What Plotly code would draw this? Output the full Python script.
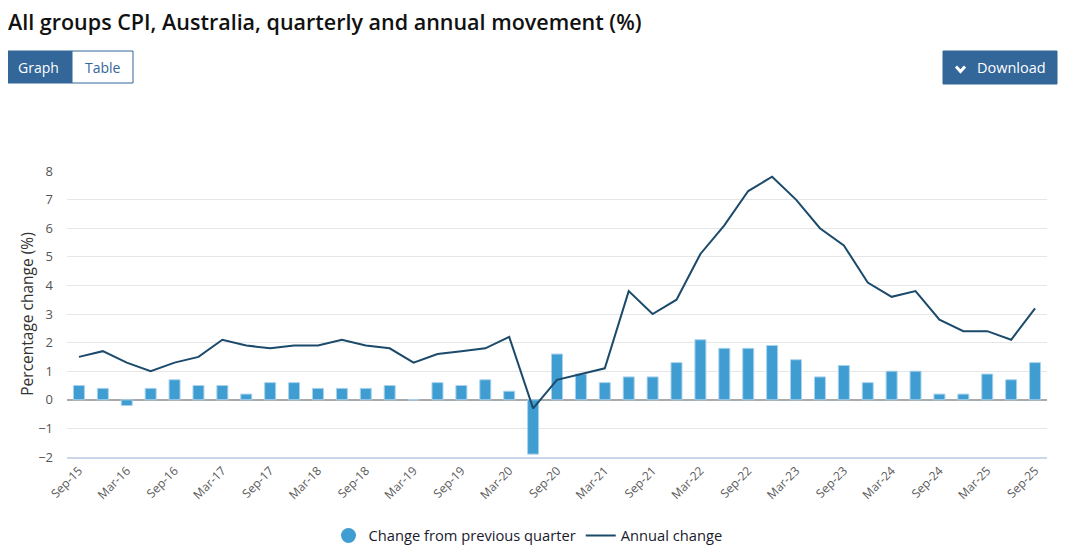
import plotly.graph_objects as go

quarters = ["Sep-15", "Dec-15", "Mar-16", "Jun-16", "Sep-16", "Dec-16", "Mar-17", "Jun-17",
            "Sep-17", "Dec-17", "Mar-18", "Jun-18", "Sep-18", "Dec-18", "Mar-19", "Jun-19",
            "Sep-19", "Dec-19", "Mar-20", "Jun-20", "Sep-20", "Dec-20", "Mar-21", "Jun-21",
            "Sep-21", "Dec-21", "Mar-22", "Jun-22", "Sep-22", "Dec-22", "Mar-23", "Jun-23",
            "Sep-23", "Dec-23", "Mar-24", "Jun-24", "Sep-24", "Dec-24", "Mar-25", "Jun-25",
            "Sep-25"]
quarterly_change = [0.5, 0.4, -0.2, 0.4, 0.7, 0.5, 0.5, 0.2, 0.6, 0.6, 0.4, 0.4, 0.4, 0.5,
                    0.0, 0.6, 0.5, 0.7, 0.3, -1.9, 1.6, 0.9, 0.6, 0.8, 0.8, 1.3, 2.1, 1.8,
                    1.8, 1.9, 1.4, 0.8, 1.2, 0.6, 1.0, 1.0, 0.2, 0.2, 0.9, 0.7, 1.3]
annual_change = [1.5, 1.7, 1.3, 1.0, 1.3, 1.5, 2.1, 1.9, 1.8, 1.9, 1.9, 2.1, 1.9, 1.8,
                 1.3, 1.6, 1.7, 1.8, 2.2, -0.3, 0.7, 0.9, 1.1, 3.8, 3.0, 3.5, 5.1, 6.1,
                 7.3, 7.8, 7.0, 6.0, 5.4, 4.1, 3.6, 3.8, 2.8, 2.4, 2.4, 2.1, 3.2]
tick_labels = quarters[::2]
y_ticks = [-2, -1, 0, 1, 2, 3, 4, 5, 6, 7, 8]

BAR = "#3f9dd1"
LINE = "#1b4a6b"
BTN = "#336699"
FONT = "Open Sans"

# The page body has an 8px default margin; work in page pixels and convert.
OFF = 8
W, H = 1068 - OFF, 548 - OFF
PLOT_L, PLOT_R, PLOT_T, PLOT_B = 67, 1047, 171, 457   # page pixels of plot area
L = PLOT_L - OFF
T = PLOT_T - OFF
R = W - (PLOT_R - OFF)
B = H - (PLOT_B - OFF)
PW = PLOT_R - PLOT_L
PH = PLOT_B - PLOT_T

def px_x(px):
    return (px - PLOT_L) / PW

def px_y(py):
    return (PLOT_B - py) / PH

fig = go.Figure()
fig.add_trace(go.Bar(x=quarters, y=quarterly_change, name="Change from previous quarter",
                     marker=dict(color=BAR, line=dict(color="#a9d3ec", width=1)),
                     width=0.46, showlegend=False))
fig.add_trace(go.Scatter(x=[None], y=[None], mode="markers", name="Change from previous quarter",
                         marker=dict(color=BAR, size=15, symbol="circle")))
fig.add_trace(go.Scatter(x=quarters, y=annual_change, mode="lines", name="Annual change",
                         line=dict(color=LINE, width=2)))

fig.update_layout(
    width=W, height=H,
    margin=dict(l=L, r=R, t=T, b=B, autoexpand=False),
    paper_bgcolor="white", plot_bgcolor="white",
    font=dict(family=FONT, color="#333333"),
    showlegend=True,
    legend=dict(orientation="h", x=px_x(528), xanchor="center", y=px_y(536), yanchor="middle",
                font=dict(size=14.7, color="#1a1a2e", family=FONT), itemwidth=30,
                traceorder="normal"),
    xaxis=dict(type="category", tickmode="array", tickvals=tick_labels, ticktext=tick_labels,
               tickangle=-45, tickfont=dict(size=12, color="#5a5a5a"), showgrid=False,
               showline=True, linecolor="#ccd6eb", linewidth=2, ticks="", range=[-0.5, 40.5],
               automargin=False),
    yaxis=dict(range=[-2, 8], tickvals=y_ticks, tickfont=dict(size=13, color="#555555"),
               showgrid=True, gridcolor="#e6e6e6", gridwidth=1,
               zeroline=True, zerolinecolor="#aaaaaa", zerolinewidth=2,
               title=dict(text="Percentage change (%)", font=dict(size=15.5, color="#333333"),
                          standoff=0),
               ticks="", ticklabelstandoff=13, automargin=False),
)

# Title
fig.add_annotation(text="All groups CPI, Australia, quarterly and annual movement (%)",
                   xref="paper", yref="paper", x=px_x(6), y=px_y(22),
                   xanchor="left", yanchor="middle", showarrow=False,
                   font=dict(size=21.5, color="#111111", family=FONT, weight=600))

# Graph / Table toggle
fig.add_shape(type="rect", xref="paper", yref="paper", x0=px_x(5), x1=px_x(72),
              y0=px_y(83), y1=px_y(51), fillcolor=BTN, line=dict(color=BTN, width=1))
fig.add_shape(type="rect", xref="paper", yref="paper", x0=px_x(72), x1=px_x(133),
              y0=px_y(83), y1=px_y(51), fillcolor="white", line=dict(color=BTN, width=1))
fig.add_annotation(text="Graph", xref="paper", yref="paper", x=px_x(38.5), y=px_y(67),
                   xanchor="center", yanchor="middle",
                   showarrow=False, font=dict(size=14, color="white", family=FONT))
fig.add_annotation(text="Table", xref="paper", yref="paper", x=px_x(102.5), y=px_y(67),
                   xanchor="center", yanchor="middle",
                   showarrow=False, font=dict(size=14, color=BTN, family=FONT))

# Download button
fig.add_shape(type="rect", xref="paper", yref="paper", x0=px_x(943), x1=px_x(1057),
              y0=px_y(84), y1=px_y(51), fillcolor=BTN, line=dict(color=BTN, width=1))
fig.add_shape(type="path", xref="paper", yref="paper",
              path=f"M {px_x(956)},{px_y(66.5)} L {px_x(960.5)},{px_y(71.5)} L {px_x(965)},{px_y(66.5)}",
              line=dict(color="white", width=3))
fig.add_annotation(text="Download", xref="paper", yref="paper", x=px_x(1011), y=px_y(68),
                   xanchor="center", yanchor="middle",
                   showarrow=False, font=dict(size=14.5, color="white", family=FONT))

fig.write_html("out.html")
